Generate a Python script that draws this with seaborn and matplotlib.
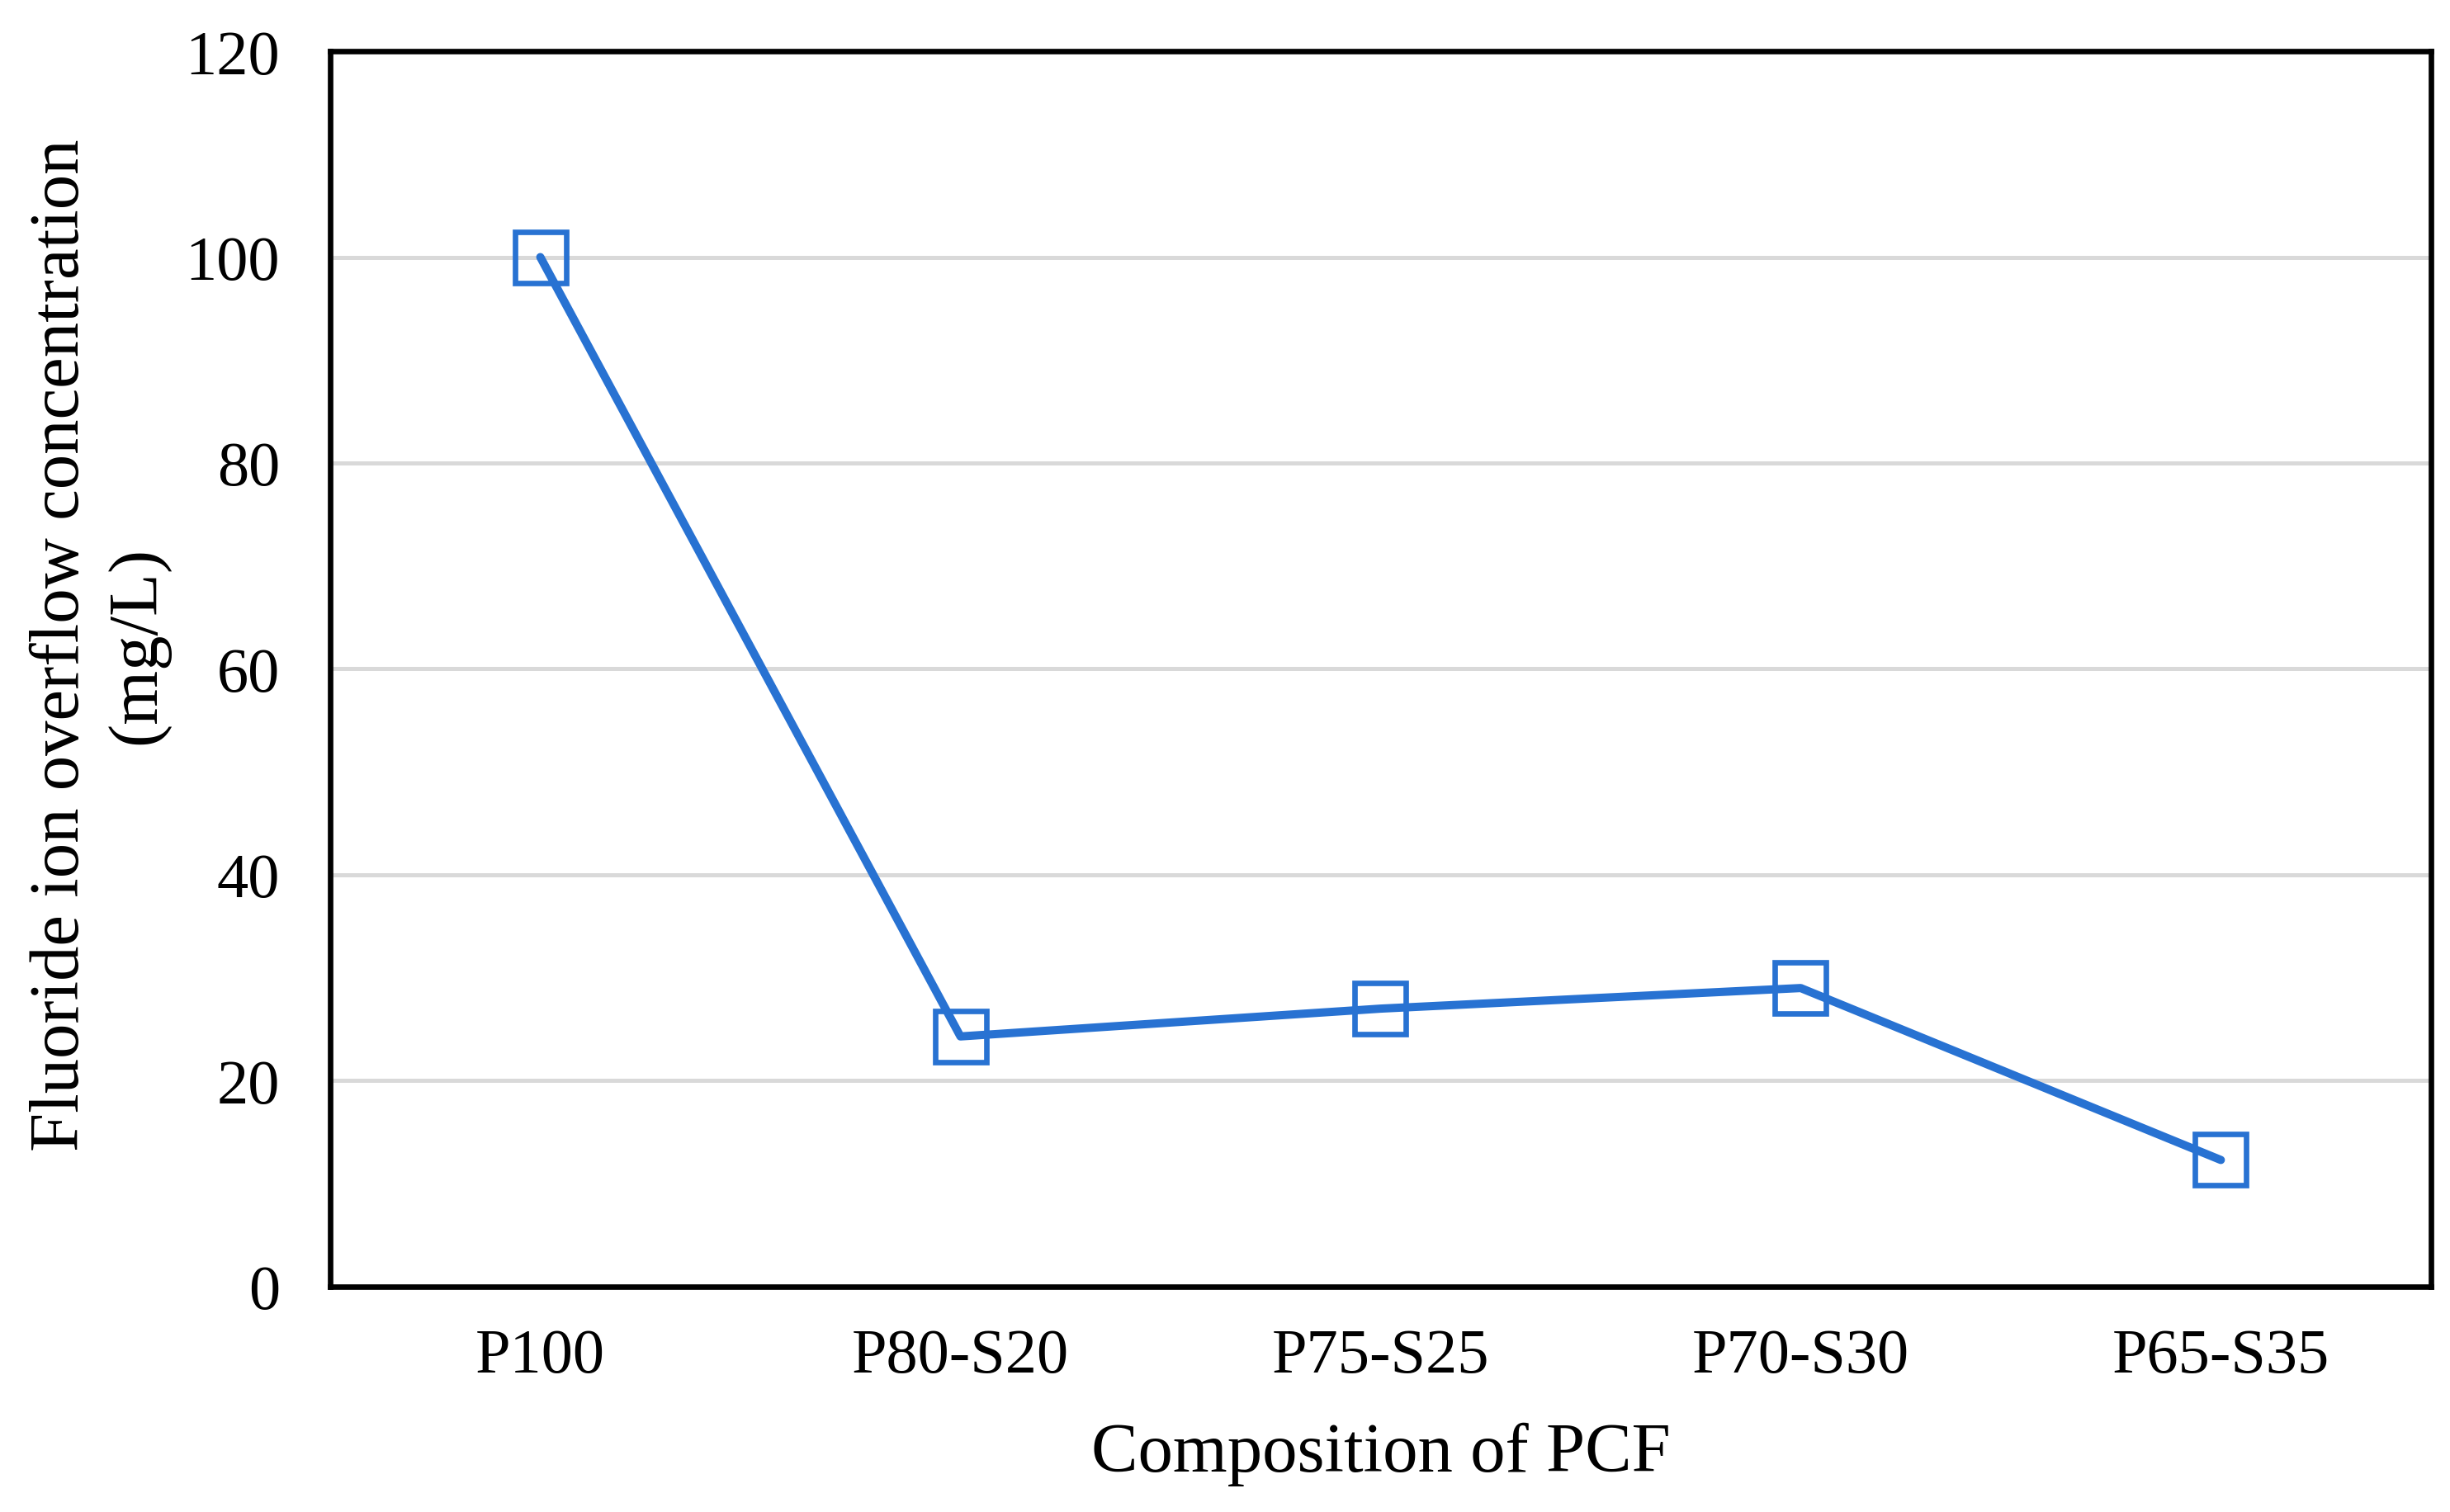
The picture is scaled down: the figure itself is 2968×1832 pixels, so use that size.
import numpy as np
import pandas as pd
import seaborn as sns
import matplotlib.pyplot as plt

compositions = ['P100', 'P80-S20', 'P75-S25', 'P70-S30', 'P65-S35']
fluoride = [100, 24.3, 27, 29, 12.3]
y_ticks = [0, 20, 40, 60, 80, 100, 120]

df = pd.DataFrame({'composition': compositions, 'fluoride': fluoride})

sns.set_style('white')
plt.rcParams['font.family'] = ['Liberation Serif', 'DejaVu Serif']
plt.rcParams['text.color'] = 'black'
plt.rcParams['axes.labelcolor'] = 'black'

fig, ax = plt.subplots(figsize=(14.84, 9.165), dpi=200)
fig.subplots_adjust(left=0.1348, right=0.9922, top=0.9656, bottom=0.149)

blue = '#2872D2'
sns.lineplot(data=df, x='composition', y='fluoride', sort=False, ax=ax,
             color=blue, linewidth=3.6, marker='s', markersize=22,
             markerfacecolor='none', markeredgecolor=blue, markeredgewidth=2.4)

ax.set_xlim(-0.5, 4.5)
ax.set_ylim(0, 120)
ax.set_yticks(y_ticks)
ax.yaxis.grid(True, color='#D9D9D9', linewidth=1.8)
ax.set_axisbelow(True)
for s in ax.spines.values():
    s.set_color('black')
    s.set_linewidth(2.4)

ax.tick_params(axis='both', length=0, labelsize=27.5, colors='black')
ax.tick_params(axis='y', pad=22)
ax.tick_params(axis='x', pad=18)
ax.set_xlabel('Composition of PCF', fontsize=30.5, labelpad=16)
ax.set_ylabel('Fluoride ion overflow concentration\n(mg/L)', fontsize=30.5, labelpad=7,
              linespacing=1.25)
ax.yaxis.label.set_y(0.52)

plt.savefig('out.png', dpi=200)
